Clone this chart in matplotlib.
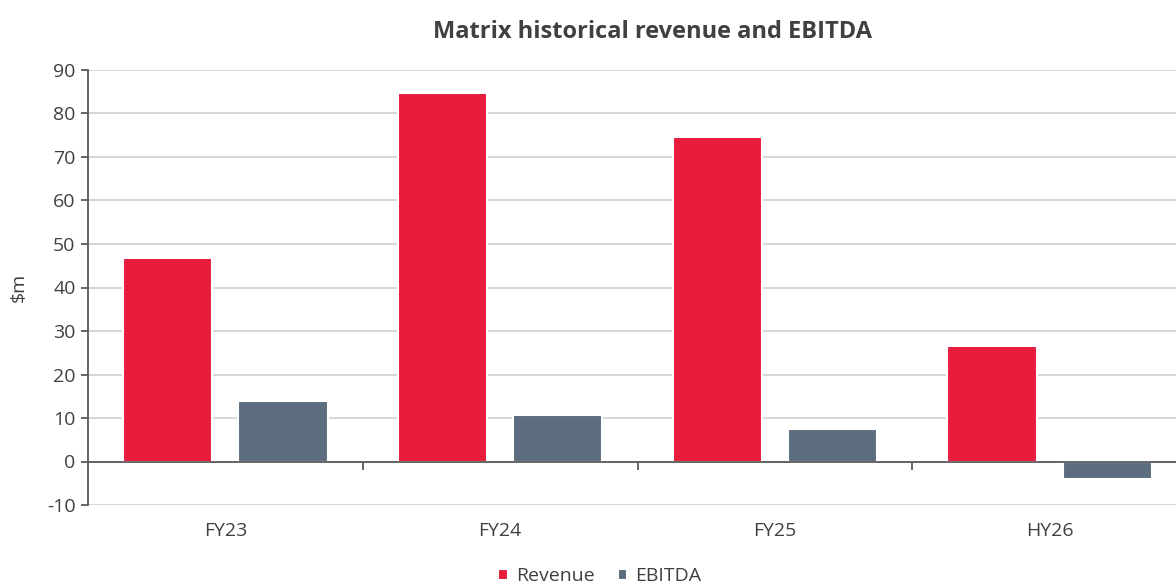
import matplotlib
matplotlib.use("Agg")
import matplotlib.pyplot as plt
import matplotlib.transforms as mtransforms
import numpy as np

plt.rcParams['font.family'] = ['Open Sans', 'DejaVu Sans']

periods = ["FY23", "FY24", "FY25", "HY26"]
revenue = [46.8, 84.7, 74.5, 26.5]
ebitda = [13.9, 10.6, 7.4, -4.1]
y_ticks = [-10, 0, 10, 20, 30, 40, 50, 60, 70, 80, 90]

red = "#E71C3A"
slate = "#5B6D7E"
text_col = "#404040"

fig = plt.figure(figsize=(11.76, 5.88), dpi=100)
ax = fig.add_axes([88/1176, 83/588, 1099/1176, (505-70)/588])

x = np.arange(len(periods))
w = 0.325
ax.bar(x - 0.21, revenue, w, color=red, edgecolor="white", linewidth=1.5, label="Revenue", zorder=3)
ax.bar(x + 0.21, ebitda, w, color=slate, edgecolor="white", linewidth=1.5, label="EBITDA", zorder=3)

ax.set_xlim(-0.5, len(periods) - 0.5)
ax.set_ylim(-10, 90)
ax.set_yticks(y_ticks)
ax.set_yticklabels([str(v) for v in y_ticks])
ax.grid(axis="y", color="#D3D3D3", linewidth=1.3, zorder=0)

for s in ["top", "right"]:
    ax.spines[s].set_visible(False)
ax.spines["left"].set_color("#595959")
ax.spines["left"].set_linewidth(1.3)
ax.spines["bottom"].set_position(("data", 0))
ax.spines["bottom"].set_color("#595959")
ax.spines["bottom"].set_linewidth(1.3)
ax.spines["bottom"].set_zorder(4)

ax.set_xticks(x[:-1] + 0.5)
ax.set_xticklabels([])
ax.tick_params(axis="x", length=6, width=1.3, color="#595959", direction="out")
ax.tick_params(axis="y", length=5, width=1.3, color="#595959", labelsize=14, labelcolor=text_col, pad=4)

trans = mtransforms.blended_transform_factory(ax.transData, ax.transAxes)
for i, p in enumerate(periods):
    ax.text(i, -0.06, p, transform=trans, ha="center", va="center", fontsize=14, color=text_col)

ax.set_ylabel("\\$m", fontsize=14, color=text_col, labelpad=14)
fig.text(0.555, 0.946, "Matrix historical revenue and EBITDA", ha="center", va="center",
         fontsize=17, fontweight="bold", color=text_col)

fig.legend(loc="center", bbox_to_anchor=(0.51, 0.02), ncol=2, frameon=False, fontsize=14,
           handlelength=0.5, handleheight=0.5, handletextpad=0.4, columnspacing=1.2,
           labelcolor=text_col)

fig.savefig("out.png", dpi=100)
